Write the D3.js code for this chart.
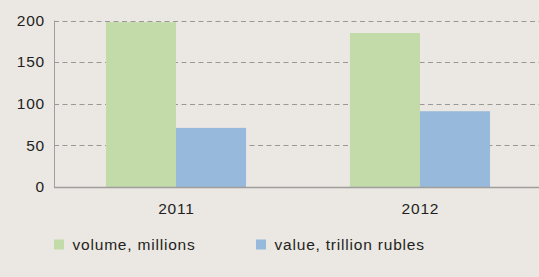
<!DOCTYPE html>
<html>
<head>
<meta charset="utf-8">
<script src="https://cdn.jsdelivr.net/npm/d3@7"></script>
<style>
  html, body { margin: 0; padding: 0; background: #ebe7e3; }
  svg { display: block; }
  text { font-family: "Liberation Sans", Arial, sans-serif; fill: #231f20; font-size: 15.5px; letter-spacing: 0.8px; }
</style>
</head>
<body>
<svg id="chart" width="539" height="277"></svg>
<script>
// data
var years = ["2011", "2012"];
var seriesNames = ["volume, millions", "value, trillion rubles"];
var volume = [198, 185];
var value = [71, 91];
var yTicks = [0, 50, 100, 150, 200];

var colors = ["#c3dba9", "#97b9db"];

var svg = d3.select("#chart");
var margin = { left: 54, top: 20.5, right: -3 };
var width = 539, height = 277;
var plotBottom = 187;

var x0 = d3.scaleBand()
  .domain(years)
  .range([margin.left, width - margin.right])
  .paddingInner(0.426)
  .paddingOuter(0.213);

var x1 = d3.scaleBand()
  .domain([0, 1])
  .range([0, x0.bandwidth()]);

var y = d3.scaleLinear()
  .domain([0, 200])
  .range([plotBottom, margin.top]);

// gridlines
svg.append("g")
  .attr("class", "grid")
  .selectAll("line")
  .data(yTicks.filter(d => d > 0))
  .enter()
  .append("line")
  .attr("x1", margin.left)
  .attr("x2", width)
  .attr("y1", d => Math.round(y(d)) + 0.5)
  .attr("y2", d => Math.round(y(d)) + 0.5)
  .attr("stroke", "#9a9896")
  .attr("stroke-width", 1)
  .attr("stroke-dasharray", "5,3.5");

// bars
var rows = years.map((yr, i) => ({ year: yr, vals: [volume[i], value[i]] }));
var groups = svg.append("g")
  .attr("class", "bars")
  .selectAll("g")
  .data(rows)
  .enter()
  .append("g")
  .attr("transform", d => "translate(" + x0(d.year) + ",0)");

groups.selectAll("rect")
  .data(d => d.vals.map((v, k) => ({ k: k, v: v })))
  .enter()
  .append("rect")
  .attr("x", d => x1(d.k))
  .attr("width", x1.bandwidth())
  .attr("y", d => y(d.v))
  .attr("height", d => y(0) - y(d.v))
  .attr("fill", d => colors[d.k]);

// axes lines
svg.append("line")
  .attr("x1", margin.left + 0.5).attr("x2", margin.left + 0.5)
  .attr("y1", y(200)).attr("y2", plotBottom)
  .attr("stroke", "#a09e9c").attr("stroke-width", 1);
svg.append("line")
  .attr("x1", margin.left).attr("x2", width)
  .attr("y1", plotBottom + 0.5).attr("y2", plotBottom + 0.5)
  .attr("stroke", "#a09e9c").attr("stroke-width", 1.5);

// y tick labels
svg.append("g")
  .selectAll("text")
  .data(yTicks)
  .enter()
  .append("text")
  .attr("x", 45)
  .attr("y", d => y(d) + 5.3)
  .attr("text-anchor", "end")
  .text(d => d);

// x labels
svg.append("g")
  .selectAll("text")
  .data(years)
  .enter()
  .append("text")
  .attr("x", d => x0(d) + x0.bandwidth() / 2 + 0.4)
  .attr("y", 213.5)
  .attr("text-anchor", "middle")
  .text(d => d);

// legend
var legendX = [54, 256];
var legend = svg.append("g")
  .selectAll("g")
  .data(seriesNames)
  .enter()
  .append("g")
  .attr("transform", (d, i) => "translate(" + legendX[i] + ",239.5)");
legend.append("rect")
  .attr("width", 10).attr("height", 10)
  .attr("fill", (d, i) => colors[i]);
legend.append("text")
  .attr("x", 18.5).attr("y", 10)
  .text(d => d);
</script>
</body>
</html>
